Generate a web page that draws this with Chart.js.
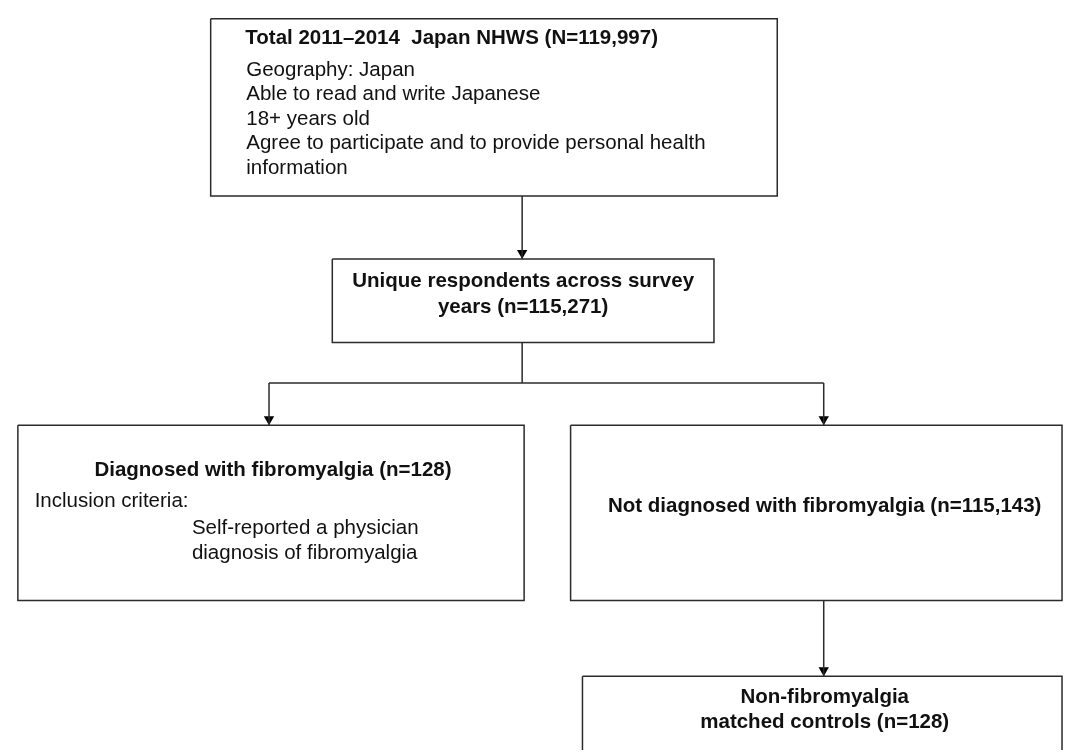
<!DOCTYPE html>
<html>
<head>
<meta charset="utf-8">
<script src="https://cdn.jsdelivr.net/npm/chart.js@4/dist/chart.umd.min.js"></script>
<style>
  html, body { margin: 0; padding: 0; background: #fff; }
  #wrap { width: 1070px; height: 756px; }
</style>
</head>
<body>
<div id="wrap"><canvas id="flowChart"></canvas></div>
<script>
// Datos del diagrama de flujo
const surveyName = 'Japan NHWS';
const surveyYears = '2011–2014';
const nodeCounts = [119997, 115271, 128, 115143, 128];
const screeningCriteria = [
    'Geography: Japan',
    'Able to read and write Japanese',
    '18+ years old',
    'Agree to participate and to provide personal health',
    'information'
];
const inclusionCriteria = ['Self-reported a physician', 'diagnosis of fibromyalgia'];

const fmt = n => n.toLocaleString('en-US');

// Posiciones (coordenadas del eje, 1 unidad = 1 px)
const Layout = {
    boxes: [
        { x0: 207, x1: 780, y0: 13, y1: 193 },
        { x0: 330, x1: 716, y0: 257, y1: 342 },
        { x0: 12, x1: 524, y0: 426, y1: 604 },
        { x0: 571, x1: 1068, y0: 426, y1: 604 },
        { x0: 583, x1: 1068, y0: 681, y1: 790 }
    ],
    lines: [
        [[522, 193], [522, 257]],
        [[522, 342], [522, 383]],
        [[266, 383], [827, 383]],
        [[266, 383], [266, 426]],
        [[827, 383], [827, 426]],
        [[827, 604], [827, 681]]
    ],
    arrowTips: [[522, 257], [266, 426], [827, 426], [827, 681]]
};

const ARROW_R = 6;
const INK = '#2b2b2b';
const FONT = '"Liberation Sans", Arial, sans-serif';
const FONT_SIZE = 20.5;

// Textos con su posicion
const texts = [
    { t: 'Total ' + surveyYears + '  ' + surveyName + ' (N=' + fmt(nodeCounts[0]) + ')', x: 242, y: 33, align: 'left', bold: true },
    ...screeningCriteria.map((s, i) => ({ t: s, x: 243, y: 65 + i * 25, align: 'left' })),
    { t: 'Unique respondents across survey', x: 523, y: 280, align: 'center', bold: true },
    { t: 'years (n=' + fmt(nodeCounts[1]) + ')', x: 523, y: 306, align: 'center', bold: true },
    { t: 'Diagnosed with fibromyalgia (n=' + fmt(nodeCounts[2]) + ')', x: 270, y: 472, align: 'center', bold: true },
    { t: 'Inclusion criteria:', x: 29, y: 503, align: 'left' },
    ...inclusionCriteria.map((s, i) => ({ t: s, x: 188, y: 531 + i * 25, align: 'left' })),
    { t: 'Not diagnosed with fibromyalgia (n=' + fmt(nodeCounts[3]) + ')', x: 828, y: 508, align: 'center', bold: true },
    { t: 'Non-fibromyalgia', x: 828, y: 703, align: 'center', bold: true },
    { t: 'matched controls (n=' + fmt(nodeCounts[4]) + ')', x: 828, y: 728, align: 'center', bold: true }
];

function lineDataset(points) {
    return {
        type: 'scatter',
        showLine: true,
        data: points.map(p => ({ x: p[0], y: p[1] })),
        borderColor: INK,
        borderWidth: 1.5,
        pointRadius: 0,
        fill: false,
        tension: 0
    };
}

const datasets = [];
Layout.boxes.forEach(b => {
    datasets.push(lineDataset([[b.x0, b.y0], [b.x1, b.y0], [b.x1, b.y1], [b.x0, b.y1], [b.x0, b.y0]]));
});
Layout.lines.forEach(l => datasets.push(lineDataset(l)));
datasets.push({
    type: 'scatter',
    data: Layout.arrowTips.map(p => ({ x: p[0], y: p[1] - ARROW_R })),
    pointStyle: 'triangle',
    rotation: 180,
    pointRadius: ARROW_R,
    backgroundColor: '#000',
    borderColor: '#000',
    borderWidth: 0
});

const textPlugin = {
    id: 'flowText',
    afterDatasetsDraw(chart) {
        const ctx = chart.ctx;
        const xs = chart.scales.x, ys = chart.scales.y;
        ctx.save();
        ctx.fillStyle = '#111';
        ctx.textBaseline = 'middle';
        texts.forEach(item => {
            ctx.font = (item.bold ? 'bold ' : '') + FONT_SIZE + 'px ' + FONT;
            ctx.textAlign = item.align;
            ctx.fillText(item.t, xs.getPixelForValue(item.x), ys.getPixelForValue(item.y));
        });
        ctx.restore();
    }
};

new Chart(document.getElementById('flowChart'), {
    type: 'scatter',
    data: { datasets: datasets },
    options: {
        responsive: true,
        maintainAspectRatio: false,
        animation: false,
        layout: { padding: 0 },
        plugins: { legend: { display: false }, tooltip: { enabled: false } },
        scales: {
            x: { type: 'linear', min: 0, max: 1070, display: false },
            y: { type: 'linear', min: 0, max: 756, reverse: true, display: false }
        }
    },
    plugins: [textPlugin]
});
</script>
</body>
</html>
